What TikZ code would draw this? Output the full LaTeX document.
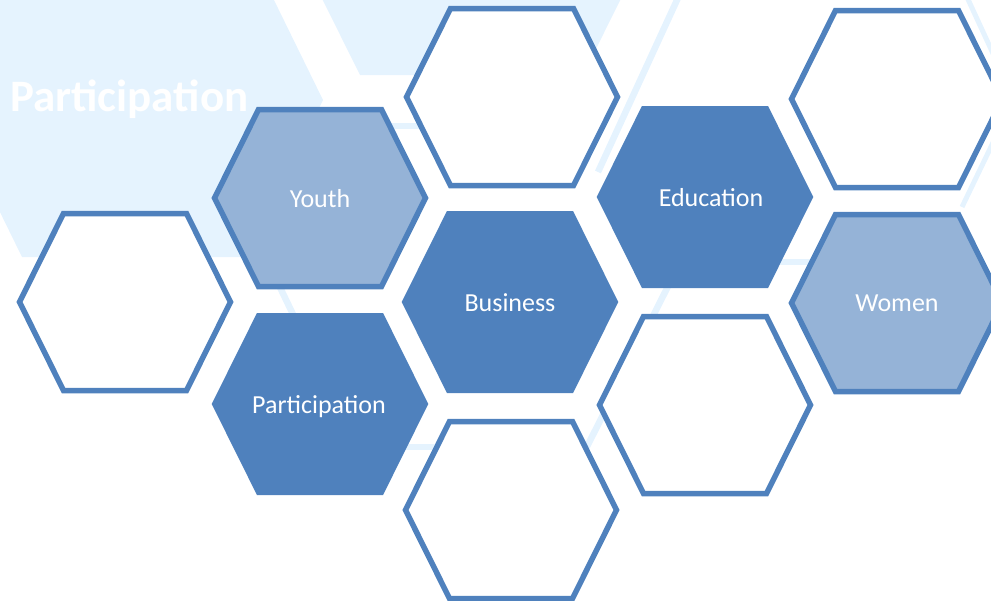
\documentclass[tikz,border=0pt]{standalone}
\usepackage{fontspec}
\setmainfont{Carlito}
\definecolor{cellblue}{HTML}{4F81BD}
\definecolor{celllight}{HTML}{95B3D7}
\definecolor{cellpale}{HTML}{E5F3FE}

\begin{document}
\begin{tikzpicture}[x=1pt, y=-1pt,
    cell/.pic={\path[pic actions] (-105.5,0) -- (-61.5,-88.5) -- (61.5,-88.5) -- (105.5,0) -- (61.5,88.5) -- (-61.5,88.5) -- cycle;},
    emptycell/.style={draw=cellblue, fill=white, line width=5.5pt, line join=miter},
    lightcell/.style={draw=cellblue, fill=celllight, line width=5.5pt, line join=miter},
    darkcell/.style={draw=cellblue, fill=cellblue, line width=5pt, line join=miter},
    celltext/.style={anchor=base, text=white, inner sep=0pt, font=\fontsize{26}{30}\selectfont},
    ghostline/.style={draw=cellpale, line width=6.5pt}]
  \clip (0,0) rectangle (991,600);
  % Faded backdrop behind the honeycomb
  \begin{scope}[fill=cellpale]
    \fill (-55,100) -- (22,257) -- (246,257) -- (323,100) -- (246,-57) -- (22,-57) -- cycle;
    \fill (280,-86) -- (360,75) -- (583,75) -- (663,-86) -- cycle;
  \end{scope}
  \begin{scope}[ghostline]
    \draw (700,-50) -- (598,172);
    \draw (700,223) -- (560,500);
    \draw (238,200) -- (339,410);
    \draw (380,447) -- (460,447);
    \draw (370,126) -- (440,126);
    \draw (760,262) -- (830,262);
    \draw[line width=5pt] (966,-5) -- (1014,99) -- (962,207);
  \end{scope}
  \node[anchor=base west, inner sep=0pt, text=white, font=\bfseries\fontsize{45}{50}\selectfont] (title) at (10,111) {Participation};
  % Empty cells
  \pic[emptycell] at (125,302) {cell};
  \pic[emptycell] at (512,97) {cell};
  \pic[emptycell] at (511,510) {cell};
  \pic[emptycell] at (705,405) {cell};
  \pic[emptycell] at (897,99) {cell};
  % Light cells
  \pic[lightcell] at (320,198) {cell};
  \pic[lightcell] at (897,303) {cell};
  % Dark cells
  \pic[darkcell] at (320,404) {cell};
  \pic[darkcell] at (510,302) {cell};
  \pic[darkcell] at (705,197) {cell};
  % Labels
  \node[celltext] (youth) at (320,207) {Youth};
  \node[celltext] (participation) at (319,413) {Participation};
  \node[celltext] (business) at (510,311) {Business};
  \node[celltext] (education) at (711,206) {Education};
  \node[celltext] (women) at (897,311) {Women};
\end{tikzpicture}
\end{document}
